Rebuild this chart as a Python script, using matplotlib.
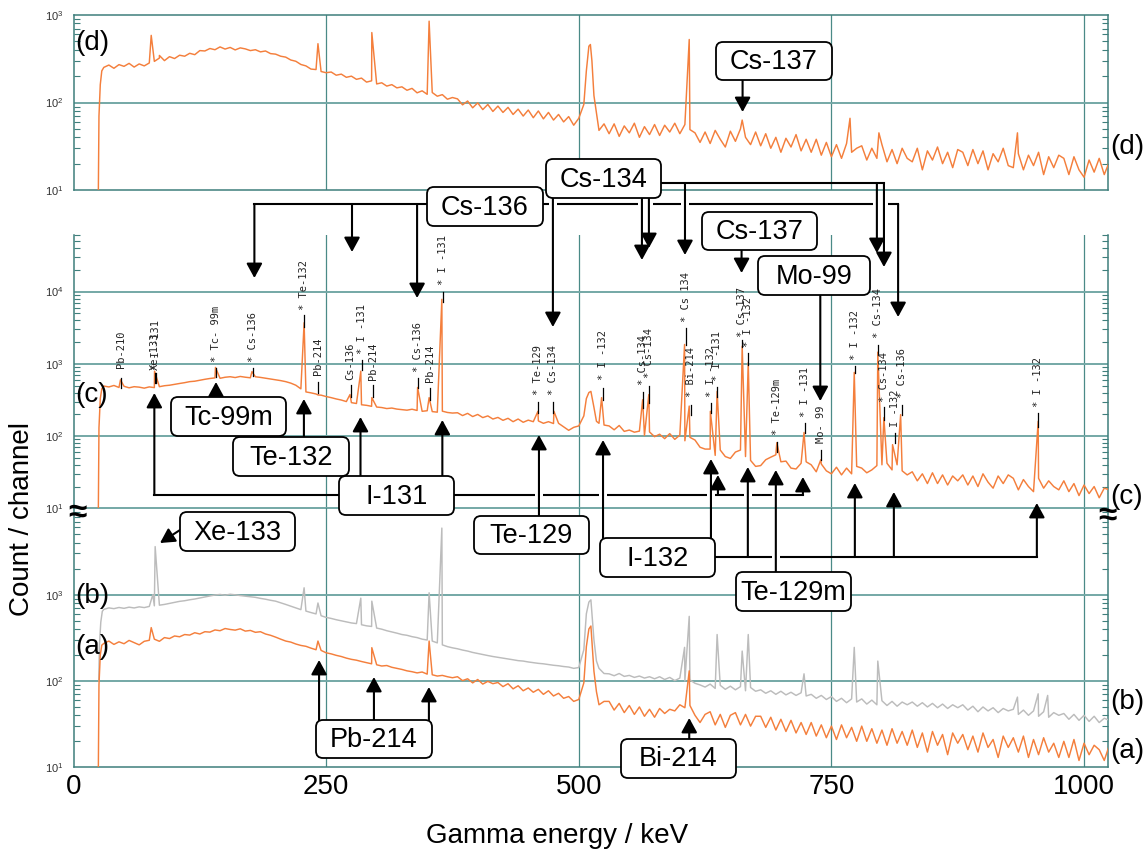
import numpy as np
import matplotlib
matplotlib.use("Agg")
import matplotlib.pyplot as plt
from matplotlib.patches import FancyBboxPatch
from matplotlib.ticker import LogLocator, NullFormatter

plt.rcParams['font.family'] = ['Liberation Sans', 'DejaVu Sans']
plt.rcParams['mathtext.fontset'] = 'custom'
plt.rcParams['mathtext.rm'] = 'Liberation Sans'

W, H = 1147, 850

# ---------------------------------------------------------------- data
energy_ticks = [0, 250, 500, 750, 1000]
energy_grid = np.arange(30, 1030, 5)          # keV, continuum sampling

# (d) top spectrum
d_start_E = [24.6, 25.2, 26.5, 28.0]
d_start_C = [10, 70, 160, 230]
d_counts = [
    252, 268, 246, 271, 259, 280, 254, 276, 262, 283,
    295, 322, 301, 334, 318, 347, 338, 365, 352, 392,
    388, 414, 401, 432, 408, 426, 399, 421, 410, 392,
    401, 379, 388, 362, 357, 338, 330, 306, 296, 272,
    262, 241, 238, 226, 219, 223, 205, 211, 194, 200,
    184, 190, 171, 177, 163, 168, 154, 160, 147, 151,
    138, 145, 129, 136, 124, 130, 118, 123, 109, 114,
    110, 94, 104, 87, 99, 83, 95, 79, 91, 77,
    88, 73, 84, 70, 82, 67, 80, 65, 77, 63,
    73, 60, 69, 55, 66, 95, 440, 120, 48, 57,
    44, 57, 41, 54, 45, 58, 40, 53, 43, 56,
    42, 55, 46, 58, 44, 56, 49, 45, 35, 46,
    34, 48, 38, 31, 47, 36, 50, 40, 33, 46,
    32, 44, 30, 40, 27, 39, 31, 43, 28, 38,
    27, 38, 25, 35, 24, 33, 23, 34, 27, 30,
    32, 22, 30, 23, 33, 21, 29, 20, 30, 23,
    21, 30, 17, 28, 22, 31, 20, 27, 18, 29,
    27, 19, 29, 20, 28, 17, 26, 21, 30, 19,
    18, 26, 17, 25, 19, 27, 15, 24, 18, 25,
    23, 15, 24, 17, 14, 22, 16, 23, 15, 21,
]
d_peak_E = [76.9, 85.0, 241.9, 295.2, 351.9, 507.5, 511.5, 513.0, 609.3, 661.7, 768.4, 797.0, 934.1]
d_peak_C = [585, 345, 470, 630, 850, 230, 460, 300, 525, 63, 66, 45, 45]

# (c) middle spectrum
c_start_E = [24.6, 25.2, 26.5, 28.0]
c_start_C = [10, 130, 330, 450]
c_counts = [
    492, 478, 501, 470, 488, 465, 482, 475, 460, 479,
    468, 482, 497, 505, 520, 534, 548, 566, 574, 592,
    610, 626, 638, 630, 651, 662, 645, 668, 652, 640,
    661, 648, 632, 618, 600, 585, 566, 540, 505, 450,
    408, 396, 382, 368, 352, 340, 326, 315, 300, 290,
    282, 271, 266, 258, 252, 248, 240, 244, 236, 232,
    228, 235, 226, 220, 224, 218, 214, 221, 212, 208,
    210, 192, 206, 186, 199, 180, 190, 172, 181, 165,
    176, 158, 172, 155, 166, 158, 162, 150, 158, 149,
    150, 134, 120, 132, 138, 190, 400, 250, 150, 142,
    138, 122, 140, 116, 121, 113, 117, 102, 114, 98,
    106, 92, 108, 90, 103, 86, 96, 88, 70, 66,
    66, 54, 64, 52, 49, 60, 64, 52, 46, 38,
    39, 47, 51, 55, 44, 45, 36, 35, 42, 44,
    40, 32, 41, 33, 30, 37, 29, 36, 30, 38,
    36, 31, 34, 39, 40, 42, 34, 40, 33, 29,
    32, 24, 30, 22, 31, 22, 29, 21, 28, 24,
    29, 21, 28, 20, 30, 23, 19, 28, 22, 29,
    26, 18, 25, 20, 17, 26, 19, 24, 20, 18,
    24, 17, 22, 15, 21, 16, 20, 14, 19, 18,
]
c_peak_E = [46.5, 80.2, 140.5, 176.6, 228.2, 242.0, 273.6, 284.3, 295.2, 340.5,
            351.9, 364.5, 459.6, 475.4, 507.5, 512.0, 517.5, 522.6, 563.2, 569.3,
            604.7, 609.3, 630.2, 636.9, 661.7, 667.7, 696.0, 722.9, 739.5, 772.6,
            795.9, 801.9, 810.5, 818.5, 954.6]
c_peak_C = [600, 790, 890, 780, 3700, 370, 375, 790, 340, 470,
            340, 7800, 220, 220, 330, 415, 160, 340, 318, 375,
            1850, 260, 220, 415, 1750, 1040, 81, 112, 47, 760,
            1450, 180, 76, 198, 160]

# (b) grey spectrum
b_start_E = [25.0, 25.6, 27.0, 28.5]
b_start_C = [100, 250, 480, 640]
b_counts = [
    675, 702, 688, 710, 694, 716, 701, 722, 708, 730,
    742, 755, 770, 792, 815, 836, 850, 872, 890, 915,
    940, 965, 990, 1005, 985, 1010, 995, 975, 960, 945,
    930, 905, 885, 860, 840, 805, 770, 735, 700, 670,
    645, 620, 598, 570, 545, 530, 512, 498, 484, 470,
    462, 448, 435, 428, 410, 398, 382, 370, 358, 345,
    338, 326, 318, 305, 298, 290, 276, 262, 250, 242,
    236, 228, 222, 214, 208, 202, 197, 192, 188, 184,
    180, 176, 172, 170, 166, 163, 160, 158, 155, 152,
    150, 147, 145, 140, 143, 230, 820, 300, 140, 122,
    121, 115, 122, 113, 116, 110, 114, 108, 112, 106,
    112, 104, 110, 101, 108, 100, 103, 94, 90, 85,
    92, 82, 89, 80, 87, 79, 86, 77, 84, 76,
    79, 72, 77, 70, 76, 69, 74, 68, 73, 67,
    70, 63, 68, 61, 66, 58, 63, 56, 62, 57,
    62, 54, 60, 53, 59, 52, 58, 51, 57, 53,
    57, 51, 56, 50, 55, 49, 54, 48, 53, 49,
    53, 46, 51, 44, 50, 45, 49, 43, 48, 45,
    47, 41, 46, 40, 45, 39, 44, 38, 43, 40,
    42, 36, 41, 35, 40, 34, 39, 33, 37, 35,
]
b_peak_E = [78.5, 80.8, 228.2, 241.9, 284.3, 295.2, 351.9, 364.5, 507.5, 512.0,
            517.5, 604.7, 609.3, 636.9, 661.7, 667.7, 722.9, 772.6, 795.9, 934.1,
            954.6, 964.0]
b_peak_C = [1000, 3600, 1200, 800, 910, 840, 1050, 5900, 600, 870,
            170, 245, 560, 345, 222, 345, 121, 245, 170, 65,
            71, 68]

# (a) orange bottom spectrum
a_start_E = [24.6, 25.2, 26.5, 28.0]
a_start_C = [10, 90, 200, 260]
a_counts = [
    272, 290, 265, 284, 270, 295, 278, 262, 288, 296,
    305, 288, 318, 310, 332, 325, 345, 340, 362, 350,
    372, 368, 390, 382, 405, 395, 388, 402, 378, 385,
    366, 372, 350, 338, 322, 305, 290, 282, 268, 258,
    252, 240, 230, 226, 212, 206, 198, 192, 184, 178,
    174, 168, 163, 158, 154, 149, 151, 144, 140, 136,
    131, 128, 124, 127, 120, 118, 114, 116, 112, 109,
    112, 101, 106, 95, 104, 92, 99, 93, 96, 86,
    93, 81, 88, 77, 83, 74, 80, 70, 77, 67,
    72, 63, 66, 58, 61, 95, 400, 130, 53, 58,
    58, 46, 55, 43, 52, 41, 50, 39, 47, 38,
    48, 42, 47, 45, 53, 49, 52, 40, 33, 41,
    44, 31, 41, 29, 40, 43, 31, 41, 30, 39,
    39, 29, 38, 27, 36, 26, 35, 25, 33, 24,
    33, 23, 31, 22, 30, 21, 31, 22, 29, 20,
    30, 20, 28, 19, 27, 18, 28, 19, 26, 18,
    27, 17, 25, 15, 26, 18, 24, 14, 25, 19,
    24, 16, 23, 15, 25, 17, 21, 13, 23, 17,
    22, 15, 23, 13, 21, 14, 22, 15, 19, 13,
    20, 13, 21, 12, 19, 14, 18, 16, 12, 18,
]
a_peak_E = [76.9, 241.9, 295.2, 351.9, 507.5, 512.0, 517.5, 609.3]
a_peak_C = [415, 290, 243, 290, 250, 433, 75, 131]

# nuclide call-out boxes: label, left, top, right, bottom (pixels)
box_label = ['Cs-137', 'Cs-136', 'Cs-134', 'Cs-137', 'Mo-99', 'Tc-99m', 'Te-132',
             'I-131', 'Te-129', 'I-132', 'Te-129m', 'Xe-133', 'Pb-214', 'Bi-214']
box_rect = [(716, 42, 832, 80), (427, 187, 543, 226), (546, 159, 661, 198),
            (702, 212, 817, 250), (758, 256, 870, 295), (171, 397, 286, 436),
            (233, 437, 349, 476), (339, 476, 454, 515), (474, 516, 589, 554),
            (600, 538, 715, 577), (736, 572, 851, 611), (180, 512, 295, 551),
            (316, 720, 432, 758), (621, 739, 736, 778)]

# small peak labels in panel (c)
lab_text = ['Pb-210', 'Xe-133', '* I -131', '* Tc- 99m', '* Cs-136', '* Te-132', 'Pb-214',
            'Cs-136', '* I -131', 'Pb-214', '* Cs-136', 'Pb-214', '* I -131', '* Te-129',
            '* Cs-134', '* I -132', '* Cs-134', '* Cs-134', '* Cs 134', '* Bi-214',
            '* I -132', '* I -131', '* Cs-137', '* I -132', '* Te-129m', '* I -131',
            'Mo- 99', '* I -132', '* Cs-134', '* Cs-134', 'I -132', '* Cs-136', '* I -132']
lab_E = [46.7, 80.6, 81.5, 141.0, 177.3, 228.1, 242.2,
         274.3, 285.7, 296.6, 341.2, 352.7, 365.3, 459.9,
         474.7, 523.6, 563.2, 569.7, 605.7, 610.7,
         630.5, 637.0, 661.1, 667.7, 695.8, 723.7,
         739.6, 773.2, 796.3, 802.2, 812.8, 819.4, 954.6]
lab_y = [368, 370, 370, 362, 362, 310, 375,
         380, 354, 380, 372, 382, 285, 395,
         395, 380, 385, 378, 322, 397,
         397, 381, 337, 347, 435, 417,
         443, 360, 338, 402, 427, 398, 407]
lab_line = [(378, 388), (373, 383), (373, 383), (368, 377), (368, 376), (315, 327), (382, 393),
            (385, 397), (360, 370), (385, 397), (378, 388), (388, 400), (292, 302), (402, 413),
            (402, 413), (388, 400), (392, 408), (386, 403), (328, 345), (405, 415),
            (403, 413), (387, 397), (340, 347), (353, 365), (442, 452), (423, 433),
            (450, 460), (366, 373), (345, 355), (407, 420), (433, 443), (405, 415), (413, 427)]

# ---------------------------------------------------------------- style
ORANGE = '#f47f3c'
GREY = '#bcbcbc'
TEAL = '#3f7f7c'
TEAL_H = '#74a8a6'
TEAL_V = '#4a8a87'

fig = plt.figure(figsize=(W / 100, H / 100), dpi=100)
X_LEFT, X_RIGHT = 73.5, 1108.3
X_MAX = 1024


def make_ax(top, bottom, ymax):
    ax = fig.add_axes([X_LEFT / W, 1 - bottom / H, (X_RIGHT - X_LEFT) / W, (bottom - top) / H])
    ax.set_xlim(0, X_MAX)
    ax.set_yscale('log')
    ax.set_ylim(10, ymax)
    ax.patch.set_alpha(0)
    for s in ax.spines.values():
        s.set_color(TEAL)
        s.set_linewidth(1.1)
    for xv in energy_ticks[1:]:
        ax.axvline(xv, color=TEAL_V, lw=0.9, zorder=1)
    ax.yaxis.set_minor_locator(LogLocator(base=10, subs=np.arange(2, 10)))
    ax.yaxis.set_minor_formatter(NullFormatter())
    ax.tick_params(axis='y', which='minor', direction='in', length=4.5, width=0.8,
                   color=TEAL, left=True, right=True)
    ax.tick_params(axis='y', which='major', direction='in', length=0, left=True, right=True,
                   labelsize=8, labelcolor='#333333', pad=7)
    ax.tick_params(axis='x', which='both', bottom=False, top=False, labelbottom=False)
    return ax


def series(sE, sC, gC, pE, pC):
    E = np.concatenate([sE, energy_grid, pE]).astype(float)
    C = np.concatenate([sC, gC, pC]).astype(float)
    o = np.argsort(E, kind='stable')
    return E[o], C[o]


def dec_labels(vals):
    return [r'$\mathregular{10^{%d}}$' % int(round(np.log10(v))) for v in vals]


SPEC_LW = 1.05

# panel (d)
axd = make_ax(15, 190, 1000)
axd.axhline(100, color=TEAL_H, lw=1.4, zorder=1)
axd.set_yticks([10, 100, 1000], dec_labels([10, 100, 1000]))
E, C = series(d_start_E, d_start_C, d_counts, d_peak_E, d_peak_C)
axd.plot(E, C, color=ORANGE, lw=SPEC_LW, zorder=3)

# panel (c)
axc = make_ax(235.3, 508.3, 6.0e4)
axc.spines['top'].set_visible(False)
axc.spines['bottom'].set_color(TEAL_H)
axc.spines['bottom'].set_linewidth(1.4)
for v in [100, 1000, 10000]:
    axc.axhline(v, color=TEAL_H, lw=1.4, zorder=1)
axc.set_yticks([10, 100, 1000, 10000], dec_labels([10, 100, 1000, 10000]))
E, C = series(c_start_E, c_start_C, c_counts, c_peak_E, c_peak_C)
axc.plot(E, C, color=ORANGE, lw=SPEC_LW, zorder=3)

# panel (a)/(b)
axab = make_ax(508.3, 767.3, 1.0e4)
axab.spines['top'].set_visible(False)
for v in [100, 1000]:
    axab.axhline(v, color=TEAL_H, lw=1.4, zorder=1)
axab.set_yticks([10, 100, 1000], dec_labels([10, 100, 1000]))
E, C = series(b_start_E, b_start_C, b_counts, b_peak_E, b_peak_C)
axab.plot(E, C, color=GREY, lw=SPEC_LW, zorder=3)
E, C = series(a_start_E, a_start_C, a_counts, a_peak_E, a_peak_C)
axab.plot(E, C, color=ORANGE, lw=SPEC_LW, zorder=4)
axab.set_xticks(energy_ticks, [str(v) for v in energy_ticks])
axab.tick_params(axis='x', which='major', bottom=True, length=0, labelbottom=True,
                 labelsize=20, pad=5)

# ---------------------------------------------------------------- overlay annotations
ov = fig.add_axes([0, 0, 1, 1], zorder=10)
ov.set_xlim(0, W)
ov.set_ylim(H, 0)
ov.axis('off')


def ex(e):
    return axc.transData.transform((e, 10))[0]


LW = 1.5
AST = '-|>,head_length=0.55,head_width=0.3'


def hline(x0, x1, y):
    ov.plot([x0, x1], [y, y], color='k', lw=LW, zorder=2, solid_capstyle='projecting')


def gap(x, y):
    ov.plot([x - 4, x + 4], [y, y], color='white', lw=4, zorder=2.5, solid_capstyle='butt')


def arrow(e, y0, y1):
    x = ex(e)
    ov.annotate('', xy=(x, y1), xytext=(x, y0),
                arrowprops=dict(arrowstyle=AST, color='k', lw=LW, shrinkA=0, shrinkB=0,
                                mutation_scale=16), zorder=3)


# Cs-137 (d)
arrow(662.1, 80, 112)
# Cs-136
cs136_E = [179.0, 275.6, 340.0, 816.0]
cs136_tip = [278, 252, 298, 317]
hline(ex(cs136_E[0]), 427, 204)
hline(543, ex(cs136_E[-1]), 204)
for e, t in zip(cs136_E, cs136_tip):
    arrow(e, 204, t)
# Cs-134
cs134_E = [474.4, 562.5, 569.4, 605.1, 795.0, 802.0]
cs134_from = [198, 198, 198, 183, 183, 183]
cs134_tip = [327, 260, 248, 255, 253, 267]
hline(661, ex(cs134_E[-1]), 183)
for e in cs134_E:
    gap(ex(e), 204)
for e, f, t in zip(cs134_E, cs134_from, cs134_tip):
    arrow(e, f, t)
# Cs-137 (c), Mo-99
arrow(661.1, 250, 273)
arrow(739.0, 295, 401)
# Tc-99m, Te-132
arrow(141.0, 397, 382)
arrow(228.0, 437, 399)
# I-131
hline(ex(80.0), 339, 495)
hline(454, ex(721.8), 495)
i131_E = [80.0, 284.0, 365.0, 637.7, 721.8]
i131_from = [495, 476, 476, 495, 495]
i131_tip = [393, 417, 420, 475, 477]
for e, f, t in zip(i131_E, i131_from, i131_tip):
    arrow(e, f, t)
# crossings of the I-131 and I-132 lines
for e in [460.6, 524.0, 630.8, 667.3, 695.0]:
    gap(ex(e), 495)
gap(ex(695.0), 557)
# Te-129
arrow(460.6, 516, 435)
# I-132
hline(715, ex(953.3), 557)
i132_E = [524.0, 630.8, 667.3, 773.2, 811.8, 953.3]
i132_from = [538, 538, 557, 557, 557, 557]
i132_tip = [440, 459, 467, 483, 492, 503]
for e, f, t in zip(i132_E, i132_from, i132_tip):
    arrow(e, f, t)
# Te-129m
arrow(695.0, 572, 470)
# Xe-133 (diagonal)
ov.annotate('', xy=(160, 543), xytext=(180, 530),
            arrowprops=dict(arrowstyle=AST, color='k', lw=LW, shrinkA=0, shrinkB=0,
                            mutation_scale=16), zorder=3)
# Pb-214, Bi-214
for e, t in zip([243.0, 297.3, 351.7], [660, 677, 687]):
    arrow(e, 720, t)
arrow(609.3, 739, 718)

# boxes
for lab, (x0, y0, x1, y1) in zip(box_label, box_rect):
    ov.add_patch(FancyBboxPatch((x0, y0), x1 - x0, y1 - y0,
                                boxstyle='round,pad=0,rounding_size=7',
                                fc='white', ec='k', lw=1.3, zorder=4))
    ov.text((x0 + x1) / 2, (y0 + y1) / 2 + 1, lab, ha='center', va='center',
            fontsize=19.5, zorder=5)

# small rotated peak labels
for t, e, y, (l0, l1) in zip(lab_text, lab_E, lab_y, lab_line):
    x = ex(e)
    ov.plot([x, x], [l0, l1], color='k', lw=0.9, zorder=2)
    ov.text(x, y, t, rotation=90, ha='center', va='bottom', fontsize=7.5,
            family='DejaVu Sans Mono', color='#222222', zorder=2)

# panel tags
for t, x, y, ha in [('(d)', 75, 43, 'left'), ('(d)', 1110, 147, 'left'),
                    ('(c)', 75, 395, 'left'), ('(c)', 1110, 497, 'left'),
                    ('(b)', 75, 596, 'left'), ('(a)', 75, 647, 'left'),
                    ('(b)', 1110, 702, 'left'), ('(a)', 1110, 751, 'left')]:
    ov.text(x, y, t, ha=ha, va='center', fontsize=20, zorder=6)

# axis break marks
ov.text(77, 513, '≈', ha='center', va='center', fontsize=24, fontweight='bold', zorder=6)
ov.text(1107, 516, '≈', ha='center', va='center', fontsize=24, fontweight='bold', zorder=6)

# axis titles
ov.text(557, 836, 'Gamma energy / keV', ha='center', va='center', fontsize=20)
ov.text(22, 519, 'Count / channel', ha='center', va='center', fontsize=20, rotation=90)

fig.savefig('out.png', dpi=100)
